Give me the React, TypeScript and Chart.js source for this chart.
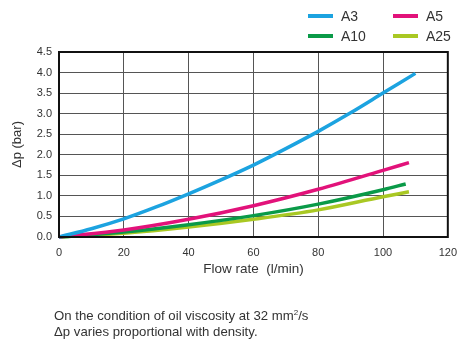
import React, { useEffect, useRef } from "react";
import { Chart, registerables } from "chart.js";

Chart.register(...registerables);

const seriesNames = ["A3", "A5", "A10", "A25"];
const seriesColors = ["#1ca3e0", "#e2127a", "#0a9a48", "#a9c823"];

const flowA3 = [0, 10, 20, 30, 40, 50, 60, 70, 80, 90, 100, 110];
const dpA3 = [0, 0.2, 0.44, 0.73, 1.05, 1.39, 1.75, 2.15, 2.57, 3.02, 3.5, 3.98];
const flowA5 = [0, 20, 40, 60, 80, 100, 108];
const dpA5 = [0, 0.17, 0.43, 0.76, 1.16, 1.62, 1.81];
const flowA10 = [0, 20, 40, 60, 80, 100, 107];
const dpA10 = [0, 0.12, 0.3, 0.52, 0.8, 1.15, 1.29];
const flowA25 = [0, 20, 40, 60, 80, 100, 108];
const dpA25 = [0, 0.09, 0.24, 0.43, 0.66, 0.98, 1.1];

const xTicks = [0, 20, 40, 60, 80, 100, 120];
const yTicks = [0, 0.5, 1, 1.5, 2, 2.5, 3, 3.5, 4, 4.5];

const FONT = "'Liberation Sans', Arial, Helvetica, sans-serif";

export default function App() {
  const ref = useRef<HTMLCanvasElement | null>(null);
  useEffect(() => {
    if (!ref.current) return;
    const flows = [flowA3, flowA5, flowA10, flowA25];
    const dps = [dpA3, dpA5, dpA10, dpA25];
    const chart = new Chart(ref.current, {
      type: "line",
      data: {
        datasets: seriesNames.map((n, i) => ({
          label: n,
          data: flows[i].map((x, j) => ({ x, y: dps[i][j] })),
          borderColor: seriesColors[i],
          backgroundColor: seriesColors[i],
          borderWidth: 3.5,
          pointRadius: 0,
          cubicInterpolationMode: "monotone" as const,
          fill: false,
          clip: 4,
        })),
      },
      options: {
        animation: false,
        responsive: false,
        maintainAspectRatio: false,
        layout: { padding: { left: 6, top: 52, right: 15, bottom: 61 } },
        plugins: { legend: { display: false }, tooltip: { enabled: false } },
        scales: {
          x: {
            type: "linear",
            min: 0,
            max: 120,
            afterBuildTicks: (s: any) => {
              s.ticks = xTicks.map((v) => ({ value: v }));
            },
            afterFit: (s: any) => {
              s.height = 50;
            },
            grid: { color: "#555", lineWidth: 1, drawTicks: false },
            border: { color: "#111", width: 2 },
            ticks: { padding: 9, color: "#333", font: { family: FONT, size: 11 } },
            title: {
              display: true,
              text: "Flow rate  (l/min)",
              color: "#333",
              font: { family: FONT, size: 13.5 },
              padding: { top: 0, bottom: 10 },
            },
          },
          y: {
            type: "linear",
            min: 0,
            max: 4.5,
            afterBuildTicks: (s: any) => {
              s.ticks = yTicks.map((v) => ({ value: v }));
            },
            afterFit: (s: any) => {
              s.width = 53;
            },
            grid: { color: "#555", lineWidth: 1, drawTicks: false },
            border: { color: "#111", width: 2 },
            ticks: {
              padding: 7,
              color: "#333",
              font: { family: FONT, size: 11 },
              callback: (v: any) => Number(v).toFixed(1),
            },
            title: {
              display: true,
              text: "Δp (bar)",
              color: "#333",
              font: { family: FONT, size: 13 },
              padding: { top: 4, bottom: 0 },
            },
          },
        },
      },
      plugins: [
        {
          id: "frame",
          afterDatasetsDraw(c: any) {
            const a = c.chartArea;
            const ctx = c.ctx;
            ctx.save();
            ctx.strokeStyle = "#111";
            ctx.lineWidth = 2;
            ctx.strokeRect(a.left, a.top, a.right - a.left, a.bottom - a.top);
            ctx.restore();
          },
        },
      ],
    } as any);
    return () => chart.destroy();
  }, []);

  const legendPos = [
    { l: 308, t: 16 },
    { l: 393, t: 16 },
    { l: 308, t: 36 },
    { l: 393, t: 36 },
  ];

  return (
    <div style={{ position: "fixed", left: 0, top: 0, width: 466, height: 348, background: "#fff", fontFamily: FONT }}>
      <canvas ref={ref} width={466} height={348} style={{ position: "absolute", left: 0, top: 0, width: 466, height: 348 }} />
      {seriesNames.map((n, i) => (
        <div
          key={n}
          style={{ position: "absolute", left: legendPos[i].l, top: legendPos[i].t - 8, height: 16, display: "flex", alignItems: "center" }}
        >
          <div style={{ width: 25, height: 4, background: seriesColors[i], marginRight: 8 }} />
          <span style={{ fontSize: 14, color: "#333" }}>{n}</span>
        </div>
      ))}
      <div style={{ position: "absolute", left: 54, top: 308, fontSize: 13.2, color: "#333", lineHeight: "16px" }}>
        <div>
          On the condition of oil viscosity at 32 mm<sup style={{ fontSize: 8, lineHeight: 0 }}>2</sup>/s
        </div>
        <div>Δp varies proportional with density.</div>
      </div>
    </div>
  );
}
